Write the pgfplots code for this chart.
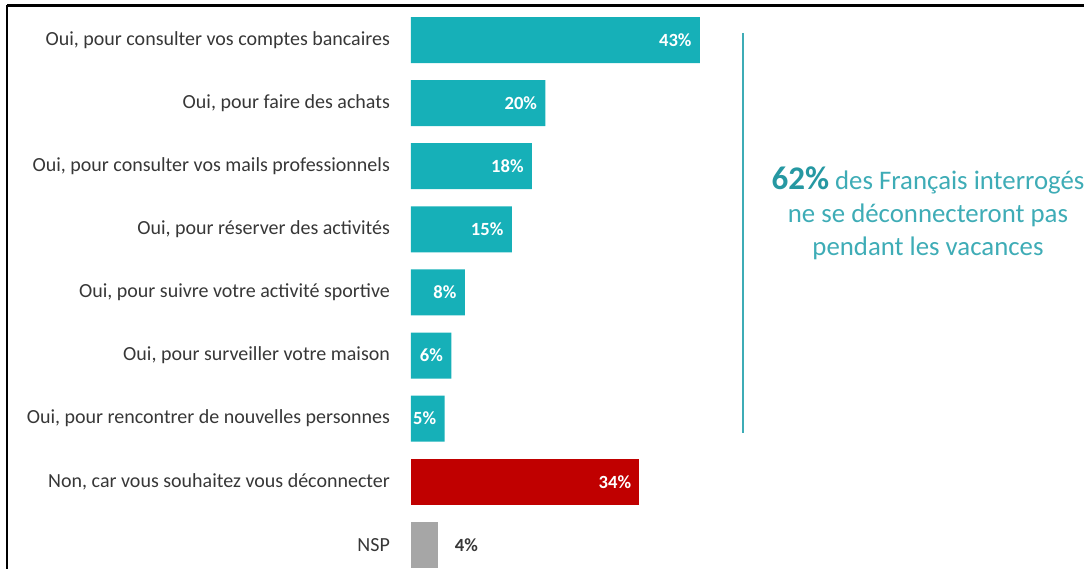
\documentclass[border=0pt]{standalone}
\usepackage{fontspec}
\setmainfont{Carlito}
\usepackage{pgfplots}
\pgfplotsset{compat=1.18}
\definecolor{teal1}{RGB}{22,176,184}
\definecolor{red1}{RGB}{192,0,0}
\definecolor{gray1}{RGB}{166,166,166}
\definecolor{labtxt}{RGB}{55,55,55}
\definecolor{annot}{RGB}{62,172,182}
\definecolor{annotdark}{RGB}{38,152,162}
\begin{document}
\begin{tikzpicture}
\path[use as bounding box] (0,0) rectangle (542pt,284.5pt);
\begin{axis}[
  at={(205.5pt,0pt)}, anchor=south west,
  scale only axis, width=336.5pt, height=284.5pt,
  xmin=0, xmax=100.15,
  ymin=-0.634, ymax=8.383, y dir=reverse,
  xbar, bar width=23pt, bar shift=0pt,
  axis line style={draw=none},
  xtick=\empty,
  ytick={0,1,2,3,4,5,6,7,8},
  yticklabels={Oui{,} pour consulter vos comptes bancaires,
               Oui{,} pour faire des achats,
               Oui{,} pour consulter vos mails professionnels,
               Oui{,} pour réserver des activités,
               Oui{,} pour suivre votre activité sportive,
               Oui{,} pour surveiller votre maison,
               Oui{,} pour rencontrer de nouvelles personnes,
               Non{,} car vous souhaitez vous déconnecter,
               NSP},
  major tick length=0pt,
  yticklabel style={font=\fontsize{10}{12}\selectfont, text=labtxt, xshift=-7pt},
  /pgf/number format/assume math mode=true,
  point meta=x,
  nodes near coords={\pgfmathprintnumber[assume math mode=true]{\pgfplotspointmeta}\%},
]
\addplot[fill=teal1, draw=none,
  nodes near coords style={anchor=east, xshift=-2.5pt, inner sep=1.5pt, text=white, font=\fontsize{9.3}{11}\selectfont\bfseries}]
  coordinates {(43,0) (20,1) (18,2) (15,3) (8,4) (6,5) (5,6)};
\addplot[fill=red1, draw=none,
  nodes near coords style={anchor=east, xshift=-2.5pt, inner sep=1.5pt, text=white, font=\fontsize{9.3}{11}\selectfont\bfseries}]
  coordinates {(34,7)};
\addplot[fill=gray1, draw=none,
  nodes near coords style={anchor=west, xshift=5pt, text=labtxt, font=\fontsize{9.3}{11}\selectfont\bfseries}]
  coordinates {(4,8)};
\end{axis}
% frame
\draw[black, line width=1.5pt] (3.5pt,281.5pt) -- (542pt,281.5pt);
\draw[black, line width=1pt] (3.5pt,282.2pt) -- (3.5pt,0pt);
% annotation
\draw[annot, line width=0.8pt] (371.5pt,268pt) -- (371.5pt,68pt);
\node[align=center, text=annot, font=\fontsize{13.4}{16.5}\selectfont] at (464pt,178pt)
  {{\color{annotdark}\fontsize{16.5}{16.5}\selectfont\bfseries 62\%} des Français interrogés\\
   ne se déconnecteront pas\\
   pendant les vacances};
\end{tikzpicture}
\end{document}
